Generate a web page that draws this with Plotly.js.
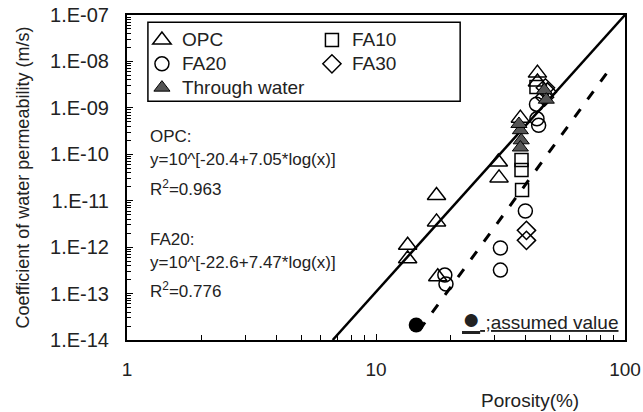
<!DOCTYPE html>
<html>
<head>
<meta charset="utf-8">
<script src="https://cdn.plot.ly/plotly-3.0.1.min.js"></script>
<style>html,body{margin:0;padding:0;background:#fff;}#chart{width:643px;height:412px;}</style>
</head>
<body>
<div id="chart"></div>
<script>
// Data
const opcX = [13.4, 13.4, 17.5, 17.5, 17.7, 31.0, 31.2, 38.0, 44.5, 44.5];
const opcY = [1.1e-12, 5.6e-13, 1.3e-11, 3.5e-12, 2.3e-13, 6.8e-11, 3.1e-11, 6.0e-10, 5.6e-9, 3.6e-9];
const fa10X = [38.4, 38.4, 38.6, 44.1];
const fa10Y = [7.5e-11, 4.6e-11, 1.7e-11, 2.8e-9];
const fa20X = [18.9, 19.1, 31.6, 31.6, 39.8, 44.1, 44.3, 45.0];
const fa20Y = [2.5e-13, 1.6e-13, 9.6e-13, 3.2e-13, 6.0e-12, 1.2e-9, 5.8e-10, 4.2e-10];
const fa30X = [40.2, 40.2, 47.9, 48.8, 47.5];
const fa30Y = [2.3e-12, 1.4e-12, 2.7e-9, 2.2e-9, 1.7e-9];
const twX = [38.0, 38.3, 38.0, 47.4, 48.3, 37.5];
const twY = [3.3e-10, 2.0e-10, 1.4e-10, 2.4e-9, 1.5e-9, 4.5e-10];
const assumedX = [14.5];
const assumedY = [2.1e-14];
const opcFitX = [6.7, 100];
const opcFitY = [1e-14, 1e-7];
const fa20FitX = [14.9, 88];
const fa20FitY = [1.6e-14, 7.6e-9];
const yTickVals = [1e-14, 1e-13, 1e-12, 1e-11, 1e-10, 1e-9, 1e-8, 1e-7];
const yTickText = ["1.E-14", "1.E-13", "1.E-12", "1.E-11", "1.E-10", "1.E-09", "1.E-08", "1.E-07"];
const xTickVals = [1, 10, 100];
const xTickText = ["1", "10", "100"];
const seriesNames = ["OPC", "FA10", "FA20", "FA30", "Through water"];

const FONT = "Liberation Sans, Arial, sans-serif";
const big = s => '<span style="font-size:19px">' + s + '</span>';

const traces = [
  {x: opcFitX, y: opcFitY, mode: 'lines', line: {color: '#000', width: 2.5}, showlegend: false, hoverinfo: 'skip'},
  {x: fa20FitX, y: fa20FitY, mode: 'lines', line: {color: '#000', width: 3, dash: '10px,12px'}, showlegend: false, hoverinfo: 'skip'},
  {x: opcX, y: opcY, name: big(seriesNames[0]), mode: 'markers', marker: {symbol: 'triangle-up-open', size: 16, color: '#000', line: {width: 1.5}}},
  {x: fa10X, y: fa10Y, name: big(seriesNames[1]), mode: 'markers', marker: {symbol: 'square-open', size: 13, color: '#000', line: {width: 1.5}}},
  {x: fa20X, y: fa20Y, name: big(seriesNames[2]), mode: 'markers', marker: {symbol: 'circle-open', size: 14, color: '#000', line: {width: 1.5}}},
  {x: fa30X, y: fa30Y, name: big(seriesNames[3]), mode: 'markers', marker: {symbol: 'diamond-open', size: 14, color: '#000', line: {width: 1.5}}},
  {x: twX, y: twY, name: big(seriesNames[4]), mode: 'markers', marker: {symbol: 'triangle-up', size: 14, color: '#555', line: {color: '#000', width: 1}}},
  {x: assumedX, y: assumedY, name: 'assumed value', mode: 'markers', showlegend: false, marker: {symbol: 'circle', size: 15, color: '#000'}}
];

const eqFont = {family: FONT, size: 17, color: '#222'};
function ann(text, px, py, extra) {
  return Object.assign({xref: 'paper', yref: 'paper', x: px, y: py, xanchor: 'left', yanchor: 'middle', showarrow: false, text: text, font: eqFont}, extra || {});
}

const layout = {
  width: 643, height: 412,
  margin: {l: 127, r: 18, t: 15, b: 72},
  paper_bgcolor: '#fff', plot_bgcolor: '#fff',
  font: {family: FONT, color: '#222'},
  showlegend: true,
  legend: {
    orientation: 'h', x: 0.03, y: 0.975, xanchor: 'left', yanchor: 'top',
    entrywidth: 125, itemwidth: 30, bgcolor: 'rgba(0,0,0,0)', borderwidth: 0,
    font: {family: FONT, size: 16, color: '#222'}, tracegroupgap: 0
  },
  xaxis: {
    type: 'log', range: [0, 2], showgrid: false, zeroline: false,
    showline: true, linecolor: '#000', linewidth: 2, mirror: true,
    tickmode: 'array', tickvals: xTickVals, ticktext: xTickText,
    ticks: 'inside', ticklen: 6, tickcolor: '#000', tickwidth: 1,
    ticklabelstandoff: 11,
    minor: {ticks: 'inside', ticklen: 5, tickcolor: '#000', dtick: 'D1', showgrid: false},
    tickfont: {family: FONT, size: 19, color: '#222'}
  },
  yaxis: {
    type: 'log', range: [-14, -7], showgrid: false, zeroline: false,
    showline: true, linecolor: '#000', linewidth: 2, mirror: true,
    tickmode: 'array', tickvals: yTickVals, ticktext: yTickText,
    ticks: 'inside', ticklen: 6, tickcolor: '#000', tickwidth: 1,
    ticklabelstandoff: 12,
    minor: {ticks: 'inside', ticklen: 4, tickcolor: '#000', dtick: 'D1', showgrid: false},
    tickfont: {family: FONT, size: 20, color: '#222'},
    title: {text: 'Coefficient of water permeability (m/s)', font: {family: FONT, size: 18, color: '#222'}, standoff: 16}
  },
  shapes: [
    {type: 'rect', xref: 'paper', yref: 'paper', x0: 0.042, x1: 0.669, y0: 0.735, y1: 0.978, line: {color: '#000', width: 1.5}, fillcolor: 'rgba(0,0,0,0)'}
  ],
  annotations: [
    ann('OPC:', 0.042, 0.625),
    ann('y=10^[-20.4+7.05*log(x)]', 0.042, 0.554),
    ann('R<sup>2</sup>=0.963', 0.042, 0.468),
    ann('FA20:', 0.042, 0.308),
    ann('y=10^[-22.6+7.47*log(x)]', 0.042, 0.240),
    ann('R<sup>2</sup>=0.776', 0.042, 0.154),
    ann('<u><span style="font-size:30px">●</span> ;assumed value</u>', 0.668, 0.065, {font: {family: FONT, size: 19, color: '#222'}}),
    {xref: 'paper', yref: 'paper', x: 0.81, y: -0.185, xanchor: 'center', yanchor: 'middle', showarrow: false, text: 'Porosity(%)', font: {family: FONT, size: 19, color: '#222'}}
  ]
};

Plotly.newPlot('chart', traces, layout, {displayModeBar: false, staticPlot: true});
</script>
</body>
</html>
